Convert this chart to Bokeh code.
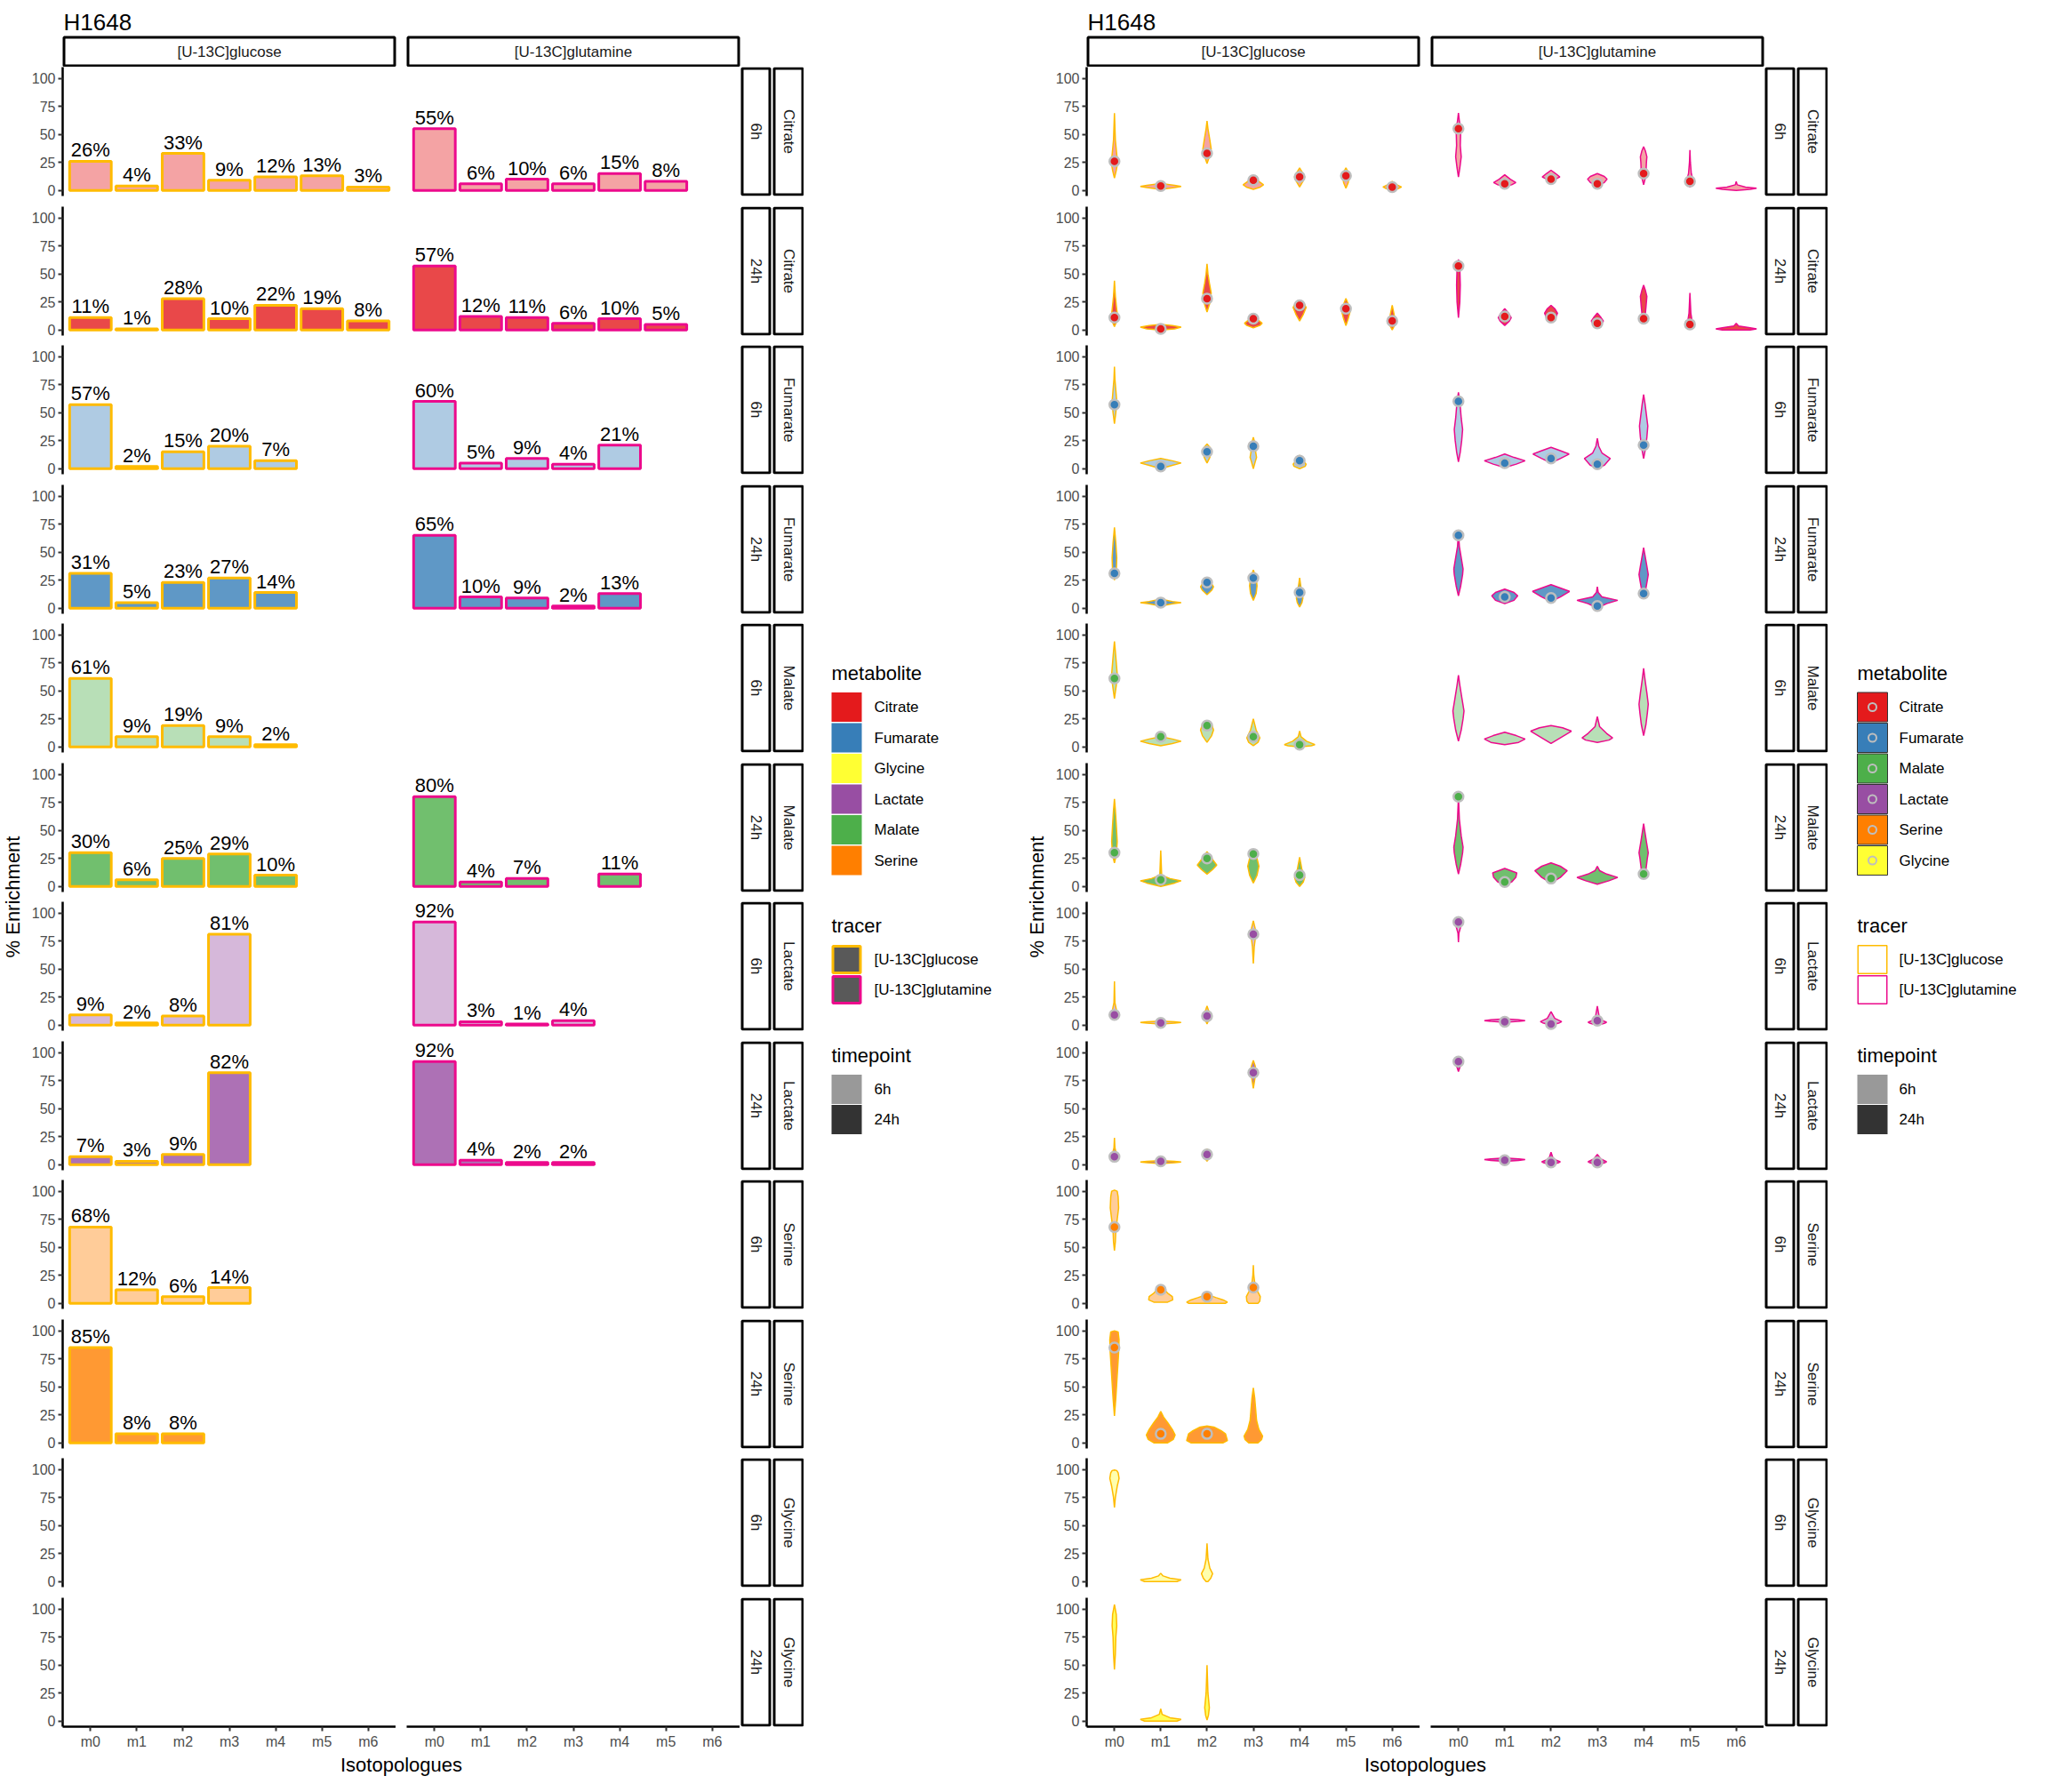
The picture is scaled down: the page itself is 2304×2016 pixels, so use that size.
import math
from bokeh.plotting import figure
from bokeh.layouts import row, column
from bokeh.models import Range1d, FixedTicker, ColumnDataSource, LabelSet
from bokeh.embed import file_html
from bokeh.resources import INLINE
from bokeh.core.properties import value

# ---------------------------------------------------------------- data
TITLE = "H1648"
ISOTOPOLOGUES = ["m0", "m1", "m2", "m3", "m4", "m5", "m6"]
METABOLITES = ["Citrate", "Fumarate", "Malate", "Lactate", "Serine", "Glycine"]
LEGEND_METABOLITES_BARS = ["Citrate", "Fumarate", "Glycine", "Lactate", "Malate", "Serine"]
TIMEPOINTS = ["6h", "24h"]
TRACERS = ["[U-13C]glucose", "[U-13C]glutamine"]
Y_TICKS = [0, 25, 50, 75, 100]
X_TITLE = "Isotopologues"
Y_TITLE = "% Enrichment"

METAB_COLORS = {"Citrate": "#E41A1C", "Fumarate": "#377EB8", "Malate": "#4DAF4A",
                "Lactate": "#984EA3", "Serine": "#FF7F00", "Glycine": "#FFFF33"}
TRACER_COLORS = {"[U-13C]glucose": "#FFBB00", "[U-13C]glutamine": "#EC0A8C"}
TIME_ALPHA = {"6h": 0.4, "24h": 0.8}
TIME_KEY_COLORS = {"6h": "#999999", "24h": "#333333"}

# mean % enrichment per isotopologue (m0, m1, ...); None = not shown
GLC_CITRATE_6H = [26, 4, 33, 9, 12, 13, 3]
GLC_CITRATE_24H = [11, 1, 28, 10, 22, 19, 8]
GLC_FUMARATE_6H = [57, 2, 15, 20, 7]
GLC_FUMARATE_24H = [31, 5, 23, 27, 14]
GLC_MALATE_6H = [61, 9, 19, 9, 2]
GLC_MALATE_24H = [30, 6, 25, 29, 10]
GLC_LACTATE_6H = [9, 2, 8, 81]
GLC_LACTATE_24H = [7, 3, 9, 82]
GLC_SERINE_6H = [68, 12, 6, 14]
GLC_SERINE_24H = [85, 8, 8]
GLC_GLYCINE_6H = []
GLC_GLYCINE_24H = []
GLN_CITRATE_6H = [55, 6, 10, 6, 15, 8]
GLN_CITRATE_24H = [57, 12, 11, 6, 10, 5]
GLN_FUMARATE_6H = [60, 5, 9, 4, 21]
GLN_FUMARATE_24H = [65, 10, 9, 2, 13]
GLN_MALATE_6H = []
GLN_MALATE_24H = [80, 4, 7, None, 11]
GLN_LACTATE_6H = [92, 3, 1, 4]
GLN_LACTATE_24H = [92, 4, 2, 2]
GLN_SERINE_6H = []
GLN_SERINE_24H = []
GLN_GLYCINE_6H = []
GLN_GLYCINE_24H = []

# violin profiles: isotopologue -> [[% enrichment, half width (category units)], ...] bottom to top
VIO_GLC_CITRATE_6H = {
    "m0": [[11, 0], [18, 0.04], [25, 0.07], [32, 0.05], [45, 0.02], [69, 0]],
    "m1": [[1, 0], [2.5, 0.3], [3.5, 0.44], [4.5, 0.3], [6, 0.04], [7, 0]],
    "m2": [[24, 0], [30, 0.05], [37, 0.09], [45, 0.06], [55, 0.02], [62, 0]],
    "m3": [[1, 0], [3, 0.15], [5, 0.22], [8, 0.12], [10, 0.08], [12, 0]],
    "m4": [[3, 0], [8, 0.07], [12, 0.11], [16, 0.06], [20, 0]],
    "m5": [[2, 0], [7, 0.05], [13, 0.07], [17, 0.04], [20, 0]],
    "m6": [[0, 0], [2, 0.15], [3, 0.2], [5, 0.1], [8, 0]],
}
VIO_GLC_CITRATE_24H = {
    "m0": [[3, 0], [8, 0.05], [12, 0.07], [18, 0.05], [30, 0.02], [44, 0]],
    "m1": [[0, 0], [1, 0.3], [2.5, 0.44], [4, 0.25], [5, 0]],
    "m2": [[16, 0], [24, 0.06], [33, 0.09], [42, 0.05], [50, 0.02], [59, 0]],
    "m3": [[2, 0], [4, 0.14], [6, 0.19], [9, 0.1], [13, 0]],
    "m4": [[8, 0], [14, 0.08], [20, 0.14], [23, 0.1], [26, 0]],
    "m5": [[4, 0], [10, 0.05], [18, 0.1], [23, 0.05], [28, 0]],
    "m6": [[0, 0], [4, 0.05], [8, 0.07], [14, 0.04], [22, 0]],
}
VIO_GLC_FUMARATE_6H = {
    "m0": [[40, 0], [50, 0.03], [60, 0.05], [70, 0.03], [80, 0.01], [91, 0]],
    "m1": [[0, 0], [3, 0.25], [5, 0.44], [7, 0.25], [9, 0]],
    "m2": [[5, 0], [10, 0.06], [15, 0.09], [19, 0.06], [22, 0]],
    "m3": [[0, 0], [6, 0.04], [10, 0.07], [15, 0.05], [20, 0.05], [28, 0]],
    "m4": [[0, 0], [2, 0.12], [4, 0.14], [8, 0.06], [12, 0]],
}
VIO_GLC_FUMARATE_24H = {
    "m0": [[25, 0], [32, 0.04], [45, 0.05], [58, 0.03], [72, 0]],
    "m1": [[2, 0], [4, 0.25], [5, 0.44], [6, 0.25], [8, 0]],
    "m2": [[12, 0], [16, 0.1], [19, 0.14], [23, 0.08], [27, 0]],
    "m3": [[7, 0], [13, 0.06], [20, 0.08], [27, 0.06], [34, 0]],
    "m4": [[1, 0], [5, 0.05], [9, 0.07], [15, 0.04], [27, 0]],
}
VIO_GLC_MALATE_6H = {
    "m0": [[43, 0], [55, 0.04], [65, 0.06], [75, 0.04], [85, 0.02], [94, 0]],
    "m1": [[1, 0], [3, 0.25], [5, 0.44], [7, 0.25], [9, 0]],
    "m2": [[4, 0], [10, 0.1], [15, 0.14], [20, 0.1], [23, 0]],
    "m3": [[1, 0], [4, 0.1], [8, 0.14], [15, 0.06], [25, 0]],
    "m4": [[0, 0], [1, 0.25], [2, 0.33], [5, 0.15], [9, 0.03], [14, 0]],
}
VIO_GLC_MALATE_24H = {
    "m0": [[21, 0], [28, 0.04], [40, 0.06], [55, 0.04], [68, 0.02], [78, 0]],
    "m1": [[0, 0], [3, 0.3], [5, 0.44], [7, 0.2], [10, 0.02], [32, 0]],
    "m2": [[11, 0], [15, 0.12], [19, 0.21], [24, 0.12], [31, 0]],
    "m3": [[3, 0], [10, 0.08], [18, 0.12], [25, 0.08], [32, 0]],
    "m4": [[0, 0], [4, 0.08], [8, 0.11], [15, 0.05], [26, 0]],
}
VIO_GLC_LACTATE_6H = {
    "m0": [[7, 0], [9, 0.04], [12, 0.05], [20, 0.01], [39, 0]],
    "m1": [[1, 0], [1.8, 0.3], [2.4, 0.44], [3, 0.3], [3.5, 0]],
    "m2": [[1, 0], [5, 0.04], [8, 0.06], [12, 0.04], [17, 0]],
    "m3": [[55, 0], [70, 0.02], [80, 0.05], [86, 0.04], [93, 0]],
}
VIO_GLC_LACTATE_24H = {
    "m0": [[5, 0], [7, 0.05], [10, 0.04], [15, 0.01], [24, 0]],
    "m1": [[1, 0], [1.8, 0.3], [2.4, 0.44], [3, 0.3], [3.5, 0]],
    "m2": [[3, 0], [6, 0.05], [9, 0.07], [12, 0.04], [14, 0]],
    "m3": [[68, 0], [76, 0.03], [83, 0.06], [88, 0.04], [93, 0]],
}
VIO_GLC_SERINE_6H = {
    "m0": [[47, 0], [55, 0.02], [65, 0.03], [75, 0.06], [85, 0.09], [95, 0.08], [100, 0.06], [101, 0]],
    "m1": [[1, 0.15], [3, 0.26], [6, 0.25], [9, 0.15], [12, 0.08], [16, 0]],
    "m2": [[0, 0.4], [1, 0.44], [3, 0.35], [5, 0.2], [7, 0.06], [8, 0]],
    "m3": [[0, 0.1], [2, 0.14], [6, 0.15], [10, 0.1], [15, 0.04], [25, 0.01], [34, 0]],
}
VIO_GLC_SERINE_24H = {
    "m0": [[24, 0], [40, 0.03], [60, 0.06], [80, 0.09], [92, 0.1], [99, 0.08], [100, 0]],
    "m1": [[0, 0.15], [3, 0.27], [7, 0.31], [12, 0.25], [18, 0.15], [23, 0.06], [28, 0]],
    "m2": [[0, 0.35], [2, 0.44], [5, 0.42], [8, 0.4], [11, 0.3], [14, 0.15], [15, 0]],
    "m3": [[0, 0.1], [3, 0.18], [6, 0.2], [12, 0.12], [20, 0.07], [30, 0.05], [40, 0.03], [49, 0]],
}
VIO_GLC_GLYCINE_6H = {
    "m0": [[66, 0], [75, 0.02], [85, 0.06], [92, 0.1], [97, 0.08], [99, 0.05], [99.5, 0]],
    "m1": [[0, 0.35], [1.5, 0.44], [3, 0.2], [5, 0.05], [7.4, 0]],
    "m2": [[0, 0.02], [3, 0.08], [7, 0.12], [12, 0.06], [20, 0.02], [34, 0]],
}
VIO_GLC_GLYCINE_24H = {
    "m0": [[46, 0], [60, 0.02], [75, 0.03], [85, 0.05], [95, 0.04], [104, 0]],
    "m1": [[0, 0.35], [1.5, 0.44], [3, 0.2], [6, 0.03], [11, 0]],
    "m2": [[1, 0], [5, 0.03], [12, 0.05], [25, 0.02], [50, 0]],
}
VIO_GLN_CITRATE_6H = {
    "m0": [[12, 0], [20, 0.03], [30, 0.06], [40, 0.04], [55, 0.05], [62, 0.02], [69, 0]],
    "m1": [[3.5, 0], [5, 0.15], [7, 0.24], [10, 0.12], [14, 0]],
    "m2": [[9, 0], [10.5, 0.12], [12, 0.19], [15, 0.1], [18, 0]],
    "m3": [[4, 0], [7, 0.15], [10, 0.21], [12.5, 0.15], [15, 0]],
    "m4": [[5, 0], [10, 0.03], [15, 0.05], [25, 0.06], [30, 0.07], [35, 0.04], [39, 0]],
    "m5": [[3, 0], [6, 0.06], [9, 0.07], [15, 0.03], [25, 0.01], [36, 0]],
    "m6": [[0, 0], [1, 0.3], [2, 0.44], [3, 0.2], [5, 0.02], [8, 0]],
}
VIO_GLN_CITRATE_24H = {
    "m0": [[11, 0], [25, 0.03], [40, 0.04], [55, 0.03], [63, 0]],
    "m1": [[4, 0], [8, 0.1], [11, 0.14], [15, 0.08], [19, 0]],
    "m2": [[7, 0], [11, 0.1], [15, 0.14], [19, 0.08], [22, 0]],
    "m3": [[3, 0], [6, 0.1], [8, 0.13], [11, 0.08], [15, 0]],
    "m4": [[7, 0], [12, 0.03], [20, 0.05], [30, 0.07], [35, 0.04], [40, 0]],
    "m5": [[2, 0], [5, 0.05], [7, 0.05], [15, 0.02], [33, 0]],
    "m6": [[0, 0.3], [1, 0.44], [2, 0.3], [3.5, 0.05], [6, 0]],
}
VIO_GLN_FUMARATE_6H = {
    "m0": [[6, 0], [15, 0.04], [25, 0.07], [35, 0.09], [45, 0.06], [60, 0.03], [68, 0]],
    "m1": [[1, 0], [4, 0.25], [7, 0.44], [10, 0.2], [13, 0]],
    "m2": [[5, 0], [9, 0.2], [13, 0.39], [16, 0.2], [19, 0]],
    "m3": [[0, 0], [3, 0.15], [9, 0.28], [14, 0.1], [20, 0.03], [27, 0]],
    "m4": [[9, 0], [18, 0.04], [28, 0.07], [38, 0.09], [48, 0.06], [58, 0.03], [66, 0]],
}
VIO_GLN_FUMARATE_24H = {
    "m0": [[11, 0], [20, 0.05], [30, 0.09], [35, 0.1], [45, 0.06], [55, 0.02], [68, 0]],
    "m1": [[4, 0], [7, 0.2], [11, 0.28], [14, 0.2], [17, 0]],
    "m2": [[6, 0], [10, 0.2], [15, 0.4], [18, 0.2], [21, 0]],
    "m3": [[0, 0], [4, 0.2], [7, 0.44], [10, 0.1], [14, 0.02], [19, 0]],
    "m4": [[10, 0], [18, 0.05], [25, 0.08], [30, 0.1], [40, 0.06], [54, 0]],
}
VIO_GLN_MALATE_6H = {
    "m0": [[5, 0], [15, 0.06], [25, 0.1], [32, 0.12], [42, 0.08], [55, 0.03], [64, 0]],
    "m1": [[2, 0], [4, 0.3], [7, 0.44], [10, 0.25], [13, 0]],
    "m2": [[3, 0], [8, 0.2], [14, 0.44], [17, 0.25], [19, 0]],
    "m3": [[4, 0], [6, 0.25], [8, 0.33], [12, 0.2], [18, 0.05], [27, 0]],
    "m4": [[10, 0], [20, 0.05], [30, 0.08], [38, 0.1], [48, 0.07], [60, 0.03], [70, 0]],
}
VIO_GLN_MALATE_24H = {
    "m0": [[11, 0], [20, 0.05], [30, 0.09], [35, 0.1], [45, 0.06], [60, 0.02], [80, 0]],
    "m1": [[1, 0], [4, 0.15], [8, 0.24], [12, 0.26], [16, 0]],
    "m2": [[3, 0], [8, 0.2], [14, 0.35], [18, 0.2], [21, 0]],
    "m3": [[2, 0], [5, 0.25], [8, 0.44], [11, 0.2], [14, 0.05], [18, 0]],
    "m4": [[7, 0], [15, 0.05], [25, 0.08], [30, 0.1], [40, 0.06], [56, 0]],
}
VIO_GLN_LACTATE_6H = {
    "m0": [[74, 0], [82, 0.01], [88, 0.05], [91, 0.08], [94, 0.06], [96, 0]],
    "m1": [[2.5, 0], [3.3, 0.3], [4, 0.44], [4.7, 0.3], [5.5, 0]],
    "m2": [[0, 0], [2, 0.18], [3, 0.23], [6, 0.08], [12, 0]],
    "m3": [[0, 0], [1.5, 0.15], [2.5, 0.2], [5, 0.05], [17, 0]],
}
VIO_GLN_LACTATE_24H = {
    "m0": [[83, 0], [88, 0.04], [92, 0.07], [94, 0.05], [96, 0]],
    "m1": [[3, 0], [3.8, 0.3], [4.5, 0.44], [5.2, 0.3], [6, 0]],
    "m2": [[0, 0], [1.5, 0.15], [2.5, 0.2], [5, 0.05], [11, 0]],
    "m3": [[0, 0], [1.5, 0.15], [2.5, 0.2], [5, 0.08], [9, 0]],
}

BARS = {
    ("Citrate", "6h", 0): GLC_CITRATE_6H, ("Citrate", "24h", 0): GLC_CITRATE_24H,
    ("Fumarate", "6h", 0): GLC_FUMARATE_6H, ("Fumarate", "24h", 0): GLC_FUMARATE_24H,
    ("Malate", "6h", 0): GLC_MALATE_6H, ("Malate", "24h", 0): GLC_MALATE_24H,
    ("Lactate", "6h", 0): GLC_LACTATE_6H, ("Lactate", "24h", 0): GLC_LACTATE_24H,
    ("Serine", "6h", 0): GLC_SERINE_6H, ("Serine", "24h", 0): GLC_SERINE_24H,
    ("Glycine", "6h", 0): GLC_GLYCINE_6H, ("Glycine", "24h", 0): GLC_GLYCINE_24H,
    ("Citrate", "6h", 1): GLN_CITRATE_6H, ("Citrate", "24h", 1): GLN_CITRATE_24H,
    ("Fumarate", "6h", 1): GLN_FUMARATE_6H, ("Fumarate", "24h", 1): GLN_FUMARATE_24H,
    ("Malate", "6h", 1): GLN_MALATE_6H, ("Malate", "24h", 1): GLN_MALATE_24H,
    ("Lactate", "6h", 1): GLN_LACTATE_6H, ("Lactate", "24h", 1): GLN_LACTATE_24H,
    ("Serine", "6h", 1): GLN_SERINE_6H, ("Serine", "24h", 1): GLN_SERINE_24H,
    ("Glycine", "6h", 1): GLN_GLYCINE_6H, ("Glycine", "24h", 1): GLN_GLYCINE_24H,
}
VIOLINS = {
    ("Citrate", "6h", 0): VIO_GLC_CITRATE_6H, ("Citrate", "24h", 0): VIO_GLC_CITRATE_24H,
    ("Fumarate", "6h", 0): VIO_GLC_FUMARATE_6H, ("Fumarate", "24h", 0): VIO_GLC_FUMARATE_24H,
    ("Malate", "6h", 0): VIO_GLC_MALATE_6H, ("Malate", "24h", 0): VIO_GLC_MALATE_24H,
    ("Lactate", "6h", 0): VIO_GLC_LACTATE_6H, ("Lactate", "24h", 0): VIO_GLC_LACTATE_24H,
    ("Serine", "6h", 0): VIO_GLC_SERINE_6H, ("Serine", "24h", 0): VIO_GLC_SERINE_24H,
    ("Glycine", "6h", 0): VIO_GLC_GLYCINE_6H, ("Glycine", "24h", 0): VIO_GLC_GLYCINE_24H,
    ("Citrate", "6h", 1): VIO_GLN_CITRATE_6H, ("Citrate", "24h", 1): VIO_GLN_CITRATE_24H,
    ("Fumarate", "6h", 1): VIO_GLN_FUMARATE_6H, ("Fumarate", "24h", 1): VIO_GLN_FUMARATE_24H,
    ("Malate", "6h", 1): VIO_GLN_MALATE_6H, ("Malate", "24h", 1): VIO_GLN_MALATE_24H,
    ("Lactate", "6h", 1): VIO_GLN_LACTATE_6H, ("Lactate", "24h", 1): VIO_GLN_LACTATE_24H,
}

# ---------------------------------------------------------------- layout constants (px)
FONT = "Liberation Sans"
FRAME_W, FRAME_H = 375, 145
GAPS = [12, 11, 12, 11, 12, 11, 12, 11, 12, 11, 12]
TOP_PAD = 5
AXIS_B = 30
BLOCK_H = 12 * FRAME_H + sum(GAPS) + AXIS_B
YT_W, C1_LEFT, C2_LEFT, STRIP_W = 32, 38, 12, 72
MAIN_W = YT_W + C1_LEFT + FRAME_W + C2_LEFT + FRAME_W + STRIP_W
HEADER_H, XT_H = 75, 26


def base_fig(fw, fh, xr, yr, **kw):
    opts = dict(frame_width=fw, frame_height=fh, x_range=xr, y_range=yr,
                min_border=0, min_border_left=0, min_border_right=0,
                min_border_top=0, min_border_bottom=0,
                x_axis_location=None, y_axis_location=None,
                toolbar_location=None, tools="", output_backend="svg")
    opts.update(kw)
    p = figure(**opts)
    p.outline_line_color = None
    p.background_fill_color = "white"
    p.border_fill_color = "white"
    p.grid.visible = False
    return p


def pixel_fig(w, h, **kw):
    return base_fig(w, h, Range1d(0, w), Range1d(h, 0), **kw)


def txt(p, x, y, s, size, color="black", align="left", baseline="middle", angle=0.0):
    p.text(x=[x], y=[y], text=[s], text_font=value(FONT), text_font_size=size,
           text_color=color, text_align=align, text_baseline=baseline, angle=angle)


def top_border(r):
    return 0 if r == 0 else TOP_PAD


def bottom_border(r):
    return AXIS_B if r == 11 else GAPS[r] - TOP_PAD


def facet_fig(r, c, style):
    met, tp = METABOLITES[r // 2], TIMEPOINTS[r % 2]
    last = r == 11
    p = base_fig(FRAME_W, FRAME_H, Range1d(0.4, 7.6), Range1d(-5, 110),
                 min_border_left=C1_LEFT if c == 0 else C2_LEFT,
                 min_border_top=top_border(r),
                 min_border_bottom=bottom_border(r),
                 x_axis_location="below" if last else None,
                 y_axis_location="left" if c == 0 else None)
    p.grid.visible = False
    if c == 0:
        p.yaxis.ticker = FixedTicker(ticks=Y_TICKS)
    if last:
        p.xaxis.ticker = FixedTicker(ticks=list(range(1, len(ISOTOPOLOGUES) + 1)))
        p.xaxis.major_label_overrides = {i + 1: lab for i, lab in enumerate(ISOTOPOLOGUES)}
    for ax in p.axis:
        ax.axis_line_color = "black"
        ax.axis_line_width = 2.5
        ax.major_tick_line_color = "#333333"
        ax.major_tick_line_width = 2
        ax.major_tick_out = 5
        ax.major_tick_in = 0
        ax.minor_tick_line_color = None
        ax.major_label_standoff = 3
        ax.major_label_text_font = FONT
        ax.major_label_text_font_size = "16px"
        ax.major_label_text_color = "#4D4D4D"

    tracer_col = TRACER_COLORS[TRACERS[c]]
    vals = BARS.get((met, tp, c), [])
    xs = [i + 1 for i, v in enumerate(vals) if v is not None]
    ys = [v for v in vals if v is not None]
    if style == "bar":
        if xs:
            p.vbar(x=xs, top=ys, bottom=0, width=0.9, fill_color=METAB_COLORS[met],
                   fill_alpha=TIME_ALPHA[tp], line_color=tracer_col, line_width=3)
            src = ColumnDataSource(dict(x=xs, y=ys, t=["%d%%" % v for v in ys]))
            p.add_layout(LabelSet(x="x", y="y", text="t", source=src,
                                  text_font=value(FONT), text_font_size="22px",
                                  text_color="black", text_align="center",
                                  text_baseline="bottom"))
    else:
        vio = VIOLINS.get((met, tp, c), {})
        pxs, pys = [], []
        for iso, prof in vio.items():
            cx = ISOTOPOLOGUES.index(iso) + 1
            yv = [pt[0] for pt in prof]
            wv = [pt[1] for pt in prof]
            pxs.append([cx + w for w in wv] + [cx - w for w in wv[::-1]])
            pys.append(yv + yv[::-1])
        if pxs:
            p.patches(xs=pxs, ys=pys, fill_color=METAB_COLORS[met], fill_alpha=TIME_ALPHA[tp],
                      line_color=tracer_col, line_width=1.5)
        if xs:
            p.scatter(x=xs, y=ys, size=11, fill_color=METAB_COLORS[met],
                      line_color="#BEBEBE", line_width=2.5)
    return p


def strip_fig(r):
    met, tp = METABOLITES[r // 2], TIMEPOINTS[r % 2]
    p = pixel_fig(STRIP_W, FRAME_H, min_border_top=top_border(r),
                  min_border_bottom=bottom_border(r))
    p.quad(left=[2.5, 38.5], right=[33.5, 70.5], top=[1.5, 1.5], bottom=[143.5, 143.5],
           fill_color="white", line_color="black", line_width=3)
    txt(p, 18, FRAME_H / 2, tp, "17px", "#1A1A1A", "center", "middle", -math.pi / 2)
    txt(p, 54.5, FRAME_H / 2, met, "17px", "#1A1A1A", "center", "middle", -math.pi / 2)
    return p


def header_fig():
    p = pixel_fig(MAIN_W, HEADER_H)
    txt(p, 71, 24, TITLE, "26px", "black", "left", "alphabetic")
    x1 = YT_W + C1_LEFT
    x2 = x1 + FRAME_W + C2_LEFT
    p.quad(left=[x1 + 1.5, x2 + 1.5], right=[x1 + FRAME_W - 1.5, x2 + FRAME_W - 1.5],
           top=[41.5, 41.5], bottom=[73.5, 73.5], fill_color="white",
           line_color="black", line_width=3)
    txt(p, x1 + FRAME_W / 2, 57.5, TRACERS[0], "17px", "#1A1A1A", "center")
    txt(p, x2 + FRAME_W / 2, 57.5, TRACERS[1], "17px", "#1A1A1A", "center")
    return p


def ytitle_fig():
    p = pixel_fig(YT_W, BLOCK_H)
    txt(p, 14, (BLOCK_H - AXIS_B) / 2, Y_TITLE, "22px", "black", "center", "middle", math.pi / 2)
    return p


def xtitle_fig():
    p = pixel_fig(MAIN_W, XT_H)
    x1 = YT_W + C1_LEFT
    x2 = x1 + FRAME_W + C2_LEFT + FRAME_W
    txt(p, (x1 + x2) / 2, 13, X_TITLE, "22px", "black", "center", "middle")
    return p


def legend_fig(style, width, kx0, lx):
    p = pixel_fig(width, BLOCK_H)
    kx1 = kx0 + 34
    kh = 33
    mets = LEGEND_METABOLITES_BARS if style == "bar" else METABOLITES
    txt(p, kx0, 682, "metabolite", "22px")
    centers = [720 + 34.5 * i for i in range(len(mets))]
    p.quad(left=kx0, right=kx1, top=[c - kh / 2 for c in centers],
           bottom=[c + kh / 2 for c in centers],
           fill_color=[METAB_COLORS[m] for m in mets],
           line_color=None if style == "bar" else "#333333", line_width=1)
    if style != "bar":
        p.scatter(x=[(kx0 + kx1) / 2] * len(mets), y=centers, size=9,
                  fill_color=[METAB_COLORS[m] for m in mets], line_color="#BEBEBE", line_width=2)
    for c, m in zip(centers, mets):
        txt(p, lx, c, m, "17px")

    txt(p, kx0, 966, "tracer", "22px")
    tcent = [1004, 1038]
    if style == "bar":
        p.quad(left=kx0 + 1.5, right=kx1 - 1.5, top=[c - kh / 2 + 1.5 for c in tcent],
               bottom=[c + kh / 2 - 1.5 for c in tcent], fill_color="#595959",
               line_color=[TRACER_COLORS[t] for t in TRACERS], line_width=3)
    else:
        p.quad(left=kx0 + 0.75, right=kx1 - 0.75, top=[c - kh / 2 + 0.75 for c in tcent],
               bottom=[c + kh / 2 - 0.75 for c in tcent], fill_color="white",
               line_color=[TRACER_COLORS[t] for t in TRACERS], line_width=1.5)
    for c, lab in zip(tcent, TRACERS):
        txt(p, lx, c, lab, "17px")

    txt(p, kx0, 1112, "timepoint", "22px")
    mcent = [1150, 1184]
    p.quad(left=kx0, right=kx1, top=[c - kh / 2 for c in mcent],
           bottom=[c + kh / 2 for c in mcent],
           fill_color=[TIME_KEY_COLORS[t] for t in TIMEPOINTS], line_color=None)
    for c, lab in zip(mcent, TIMEPOINTS):
        txt(p, lx, c, lab, "17px")
    return p


def panel(style, legend_w, kx0, lx):
    rows = []
    for r in range(12):
        rows.append(row(facet_fig(r, 0, style), facet_fig(r, 1, style), strip_fig(r)))
    body = row(ytitle_fig(), column(*rows), legend_fig(style, legend_w, kx0, lx))
    return column(header_fig(), body, xtitle_fig())


layout = row(panel("bar", 248, 31, 79), panel("violin", 232, 33, 80))
open("out.html", "w").write(file_html(layout, INLINE, title="H1648"))
